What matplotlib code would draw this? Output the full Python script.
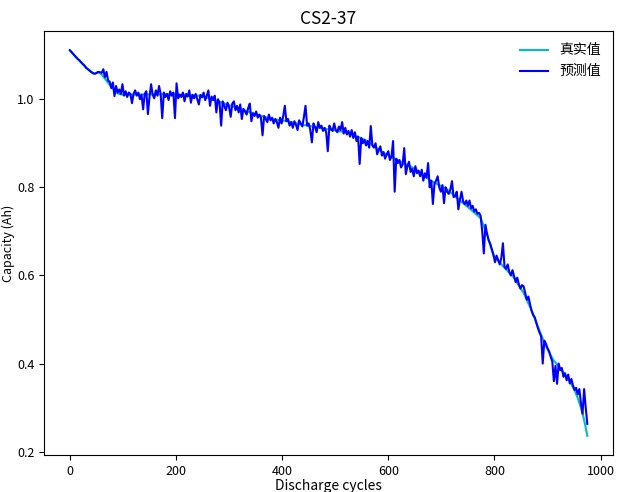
import matplotlib
matplotlib.use("Agg")
import matplotlib.pyplot as plt
import numpy as np

plt.rcParams['font.family'] = ['Noto Sans CJK SC', 'DejaVu Sans']
plt.rcParams['axes.unicode_minus'] = False

true_cycles = [0, 10, 20, 30, 40, 47, 53, 60, 70, 80, 90, 100, 150, 200, 250, 280,
               315, 350, 380, 410, 434, 480, 528, 560, 591, 620, 647, 680, 710, 736,
               755, 774, 787, 798, 817, 836, 855, 868, 880, 887, 900, 911, 925, 938,
               950, 957, 963, 968, 972, 975]
true_cap = [1.111, 1.097, 1.085, 1.072, 1.062, 1.058, 1.062, 1.056, 1.040, 1.025,
            1.013, 1.010, 1.011, 1.011, 1.007, 0.995, 0.980, 0.966, 0.955, 0.950,
            0.943, 0.933, 0.923, 0.905, 0.878, 0.860, 0.844, 0.815, 0.796, 0.769,
            0.750, 0.730, 0.690, 0.645, 0.620, 0.596, 0.560, 0.526, 0.490, 0.468,
            0.432, 0.408, 0.388, 0.367, 0.342, 0.322, 0.300, 0.277, 0.255, 0.236]

# predicted capacity, one value every 3 cycles from cycle 0
pred_cap = [
    1.111, 1.107, 1.103, 1.099, 1.095, 1.091, 1.088, 1.084, 1.080, 1.077,   # 0-27
    1.072, 1.069, 1.066, 1.063, 1.060, 1.058, 1.058, 1.060, 1.062, 1.061,   # 30-57
    1.060, 1.068, 1.050, 1.062, 1.042, 1.040, 1.025, 1.038, 1.007, 1.030,   # 60-87
    1.015, 1.022, 1.012, 1.034, 1.008, 1.018, 1.005, 1.015, 1.012, 0.991,   # 90-117
    1.012, 1.020, 1.008, 1.015, 1.000, 1.010, 0.977, 1.012, 1.018, 0.966,   # 120-147
    1.005, 1.034, 1.010, 1.002, 1.020, 1.008, 1.030, 1.012, 0.957, 1.015,   # 150-177
    1.005, 1.012, 0.998, 1.018, 1.008, 1.015, 0.957, 1.036, 1.002, 1.010,   # 180-207
    1.005, 1.015, 0.995, 1.012, 1.006, 1.020, 0.992, 1.010, 1.002, 1.012,   # 210-237
    1.000, 0.988, 1.010, 1.004, 1.015, 0.998, 1.008, 1.020, 0.985, 1.006,   # 240-267
    0.998, 1.008, 0.970, 1.000, 0.992, 0.940, 0.995, 0.985, 0.975, 0.992,   # 270-297
    0.982, 0.960, 0.990, 0.995, 0.975, 0.985, 0.970, 0.988, 0.955, 0.978,   # 300-327
    0.972, 0.965, 0.980, 0.990, 0.950, 0.968, 0.962, 0.972, 0.958, 0.965,   # 330-357
    0.958, 0.918, 0.962, 0.955, 0.948, 0.965, 0.952, 0.958, 0.945, 0.955,   # 360-387
    0.948, 0.935, 0.958, 0.945, 0.962, 0.985, 0.950, 0.955, 0.940, 0.948,   # 390-417
    0.935, 0.950, 0.942, 0.930, 0.952, 0.945, 0.938, 0.960, 0.985, 0.940,   # 420-447
    0.945, 0.930, 0.902, 0.945, 0.936, 0.925, 0.948, 0.935, 0.940, 0.928,   # 450-477
    0.935, 0.925, 0.882, 0.940, 0.932, 0.928, 0.945, 0.930, 0.925, 0.938,   # 480-507
    0.930, 0.948, 0.922, 0.935, 0.920, 0.928, 0.915, 0.930, 0.912, 0.925,   # 510-537
    0.905, 0.915, 0.853, 0.912, 0.900, 0.908, 0.895, 0.905, 0.890, 0.939,   # 540-567
    0.895, 0.890, 0.900, 0.875, 0.885, 0.893, 0.872, 0.880, 0.865, 0.875,   # 570-597
    0.882, 0.862, 0.870, 0.905, 0.790, 0.865, 0.855, 0.862, 0.845, 0.852,   # 600-627
    0.889, 0.830, 0.848, 0.858, 0.835, 0.842, 0.825, 0.848, 0.832, 0.838,   # 630-657
    0.825, 0.840, 0.815, 0.832, 0.822, 0.855, 0.800, 0.815, 0.762, 0.808,   # 660-687
    0.815, 0.825, 0.800, 0.790, 0.805, 0.764, 0.800, 0.790, 0.785, 0.795,   # 690-717
    0.814, 0.778, 0.780, 0.790, 0.750, 0.772, 0.790, 0.768, 0.762, 0.770,   # 720-747
    0.758, 0.770, 0.752, 0.758, 0.745, 0.750, 0.740, 0.742, 0.735, 0.700,   # 750-777
    0.650, 0.715, 0.695, 0.680, 0.672, 0.660, 0.648, 0.630, 0.645, 0.635,   # 780-807
    0.625, 0.640, 0.673, 0.620, 0.615, 0.625, 0.608, 0.600, 0.612, 0.598,   # 810-837
    0.585, 0.595, 0.580, 0.570, 0.578, 0.575, 0.560, 0.545, 0.552, 0.535,   # 840-867
    0.520, 0.510, 0.505, 0.492, 0.480, 0.470, 0.462, 0.400, 0.452, 0.445,   # 870-897
    0.435, 0.428, 0.415, 0.405, 0.360, 0.395, 0.354, 0.400, 0.385, 0.390,   # 900-927
    0.370, 0.378, 0.362, 0.375, 0.355, 0.365, 0.350, 0.340, 0.345, 0.330,   # 930-957
    0.342, 0.310, 0.286, 0.342, 0.300, 0.263,                               # 960-975
]
pred_cycles = np.arange(len(pred_cap)) * 3

fig = plt.figure(figsize=(6.2, 4.92), dpi=100)
ax = fig.add_axes([0.071, 0.075, 0.918, 0.862])

ax.plot(true_cycles, true_cap, color='c', linewidth=1.5, label='真实值')
ax.plot(pred_cycles, pred_cap, color='b', linewidth=1.5, label='预测值')

ax.set_title('CS2-37', fontsize=12.5, pad=5)
ax.set_xlabel('Discharge cycles', fontsize=10, labelpad=1)
ax.set_ylabel('Capacity (Ah)', fontsize=9)
ax.yaxis.set_label_coords(-0.051, 0.5)
ax.tick_params(labelsize=9)
ax.set_xticks([0, 200, 400, 600, 800, 1000])
ax.set_yticks([0.2, 0.4, 0.6, 0.8, 1.0])
ax.set_yticklabels(['0.2', '0.4', '0.6', '0.8', '1.0'])

ax.legend(loc='upper right', frameon=False, fontsize=10)

plt.savefig("out.png", dpi=100)
